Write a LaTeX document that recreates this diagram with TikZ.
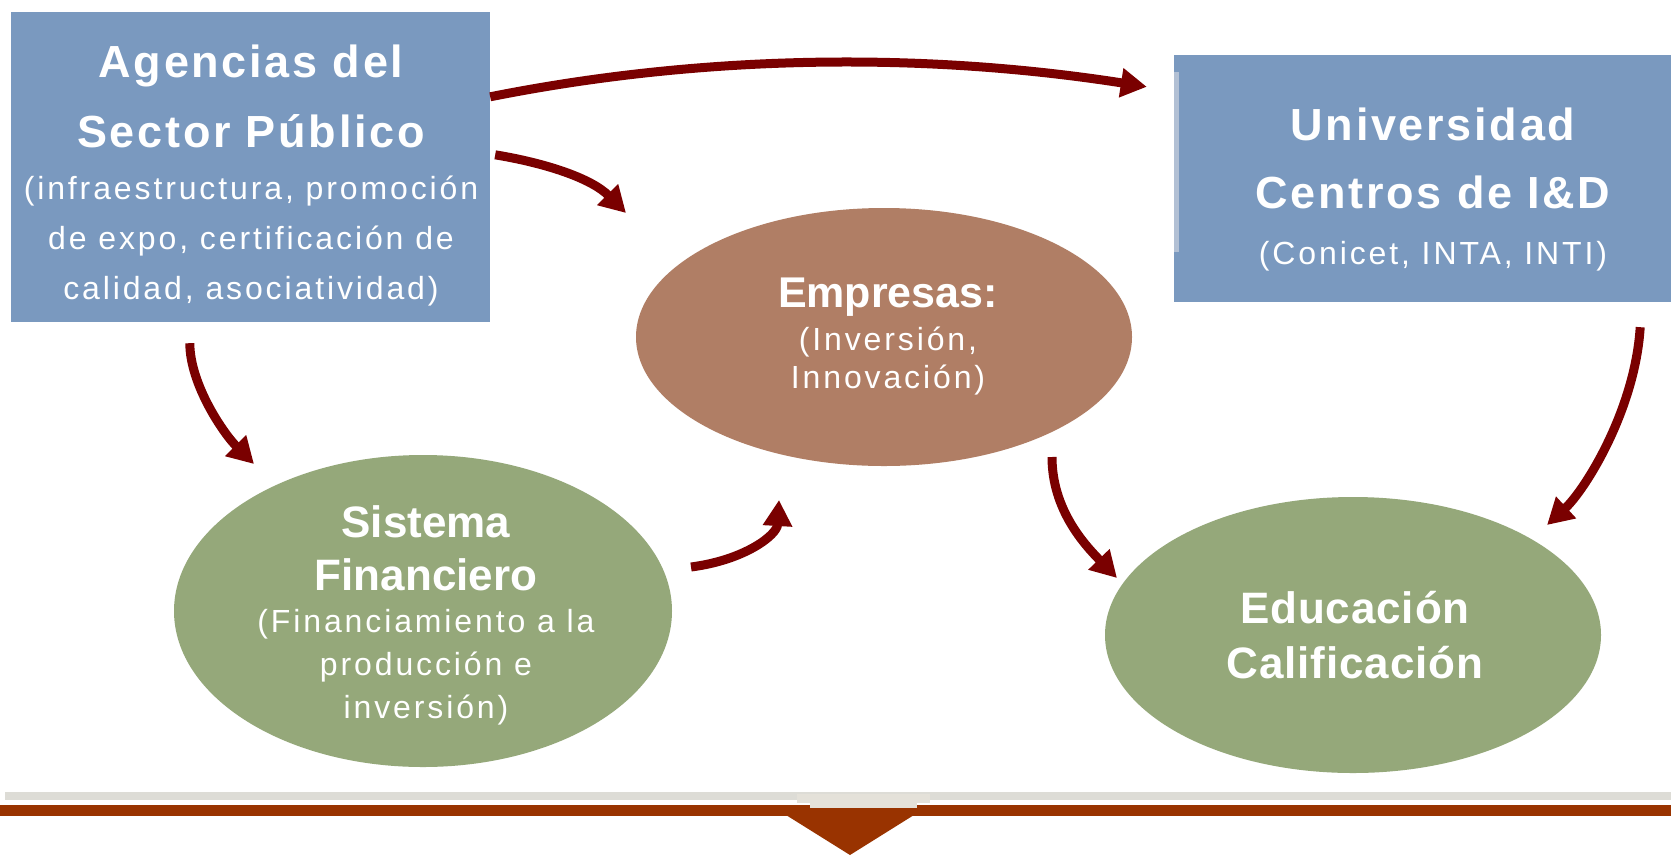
\documentclass[tikz,border=0pt]{standalone}
\usepackage{fontspec}
\setmainfont{Liberation Sans}
\newfontfamily\ttlA[LetterSpace=6]{Liberation Sans Bold}
\newfontfamily\ttlB{Liberation Sans Bold}
\newfontfamily\ttlC[LetterSpace=2]{Liberation Sans Bold}
\newfontfamily\subA[LetterSpace=9]{Liberation Sans}
\usetikzlibrary{shapes.geometric,arrows.meta,calc}
\definecolor{boxblue}{RGB}{122,153,191}
\definecolor{stripblue}{RGB}{178,192,212}
\definecolor{empbrown}{RGB}{176,126,101}
\definecolor{ovgreen}{RGB}{149,168,122}
\definecolor{arrred}{RGB}{122,0,0}
\definecolor{barred}{RGB}{153,51,0}
\definecolor{bargray}{RGB}{221,220,214}
\definecolor{patchgray}{RGB}{228,225,217}
\newcommand\TitA[1]{{\ttlA\fontsize{45}{50}\selectfont #1}}
\newcommand\TitB[1]{{\ttlB\fontsize{43}{50}\selectfont #1}}
\newcommand\TitS[1]{{\ttlB\fontsize{44}{50}\selectfont #1}}
\newcommand\StrutX{\rule{0pt}{40pt}}
\begin{document}
\begin{tikzpicture}[x=1pt,y=-1pt,
  bluebox/.style={rectangle, fill=boxblue, inner sep=0pt},
  oval/.style={ellipse, inner sep=0pt},
  txt/.style={text=white, align=center, inner sep=0pt, anchor=north},
  arr/.style={draw=arrred, line width=9pt, -{Triangle[length=26pt,width=28pt]}}]
\useasboundingbox (0,0) rectangle (1671,855);
\fill[white] (0,0) rectangle (1671,855);

% shapes
\node[bluebox, minimum width=479pt, minimum height=310pt] (ag) at (250.5,167) {};
\node[bluebox, minimum width=497pt, minimum height=247pt] (un) at (1422.5,178.5) {};
\fill[stripblue] (1174,72) rectangle (1179,252);
\node[oval, fill=empbrown, minimum width=496pt, minimum height=258pt] (em) at (884,337) {};
\node[oval, fill=ovgreen, minimum width=498pt, minimum height=312pt] (si) at (423,611) {};
\node[oval, fill=ovgreen, minimum width=496pt, minimum height=276pt] (ed) at (1353,635) {};

% texts
\node[txt, font=\subA\fontsize{32}{50}\selectfont] (agt) at (251,37)
  {\StrutX\TitA{Agencias del}\\[20pt]\TitA{Sector Público}\\[2pt](infraestructura, promoción\\de expo, certificación de\\calidad, asociatividad)};
\node[txt, font=\subA\fontsize{32}{50}\selectfont] (unt) at (1433,100)
  {\StrutX\TitA{Universidad}\\[18pt]\TitA{Centros de I\&D}\\[6pt](Conicet, INTA, INTI)};
\node[txt, font=\subA\fontsize{32}{38}\selectfont] (emt) at (888,267)
  {\StrutX\TitB{Empresas:}\\[5pt](Inversión,\\Innovación)};
\node[txt, font=\subA\fontsize{32}{43}\selectfont] (sit) at (426,497)
  {\StrutX\TitS{Sistema}\\[10pt]\TitS{Financiero}\\[-1pt](Financiamiento a la\\producción e\\inversión)};
\node[txt, font=\ttlC\fontsize{44}{55}\selectfont] (edt) at (1355,583)
  {\StrutX Educación\\Calificación};

% connectors
\draw[arr] ($(ag.north east)+(0,85)$) .. controls (710,53) and (930,53) .. ($(un.north west)+(-27,32)$);
\draw[arr] ($(ag.north east)+(5,143)$) .. controls (545,163) and (591,178) .. ($(em.center)+(-258,-124)$);
\draw[arr] ($(ag.south west)+(179,21)$) .. controls (190,385) and (224,434) .. ($(si.center)+(-169,-147)$);
\draw[arr] ($(si.center)+(268,-44)$) .. controls (745,560) and (777,535) .. ($(em.center)+(-105,163)$);
\draw[arr] ($(em.center)+(168,120)$) .. controls (1052,510) and (1085,545) .. ($(ed.center)+(-236,-57)$);
\draw[arr] ($(un.south east)+(-31,25)$) .. controls (1635,410) and (1585,490) .. ($(ed.center)+(194,-110)$);

% bottom bars
\fill[bargray] (5,792) rectangle (1671,800);
\fill[barred] (0,805) rectangle (1671,816);
\fill[barred] (786,815) -- (914,815) -- (850,855) -- cycle;
\fill[patchgray] (797,794) rectangle (930,803);
\fill[patchgray] (810,803) rectangle (917,808);
\end{tikzpicture}
\end{document}
